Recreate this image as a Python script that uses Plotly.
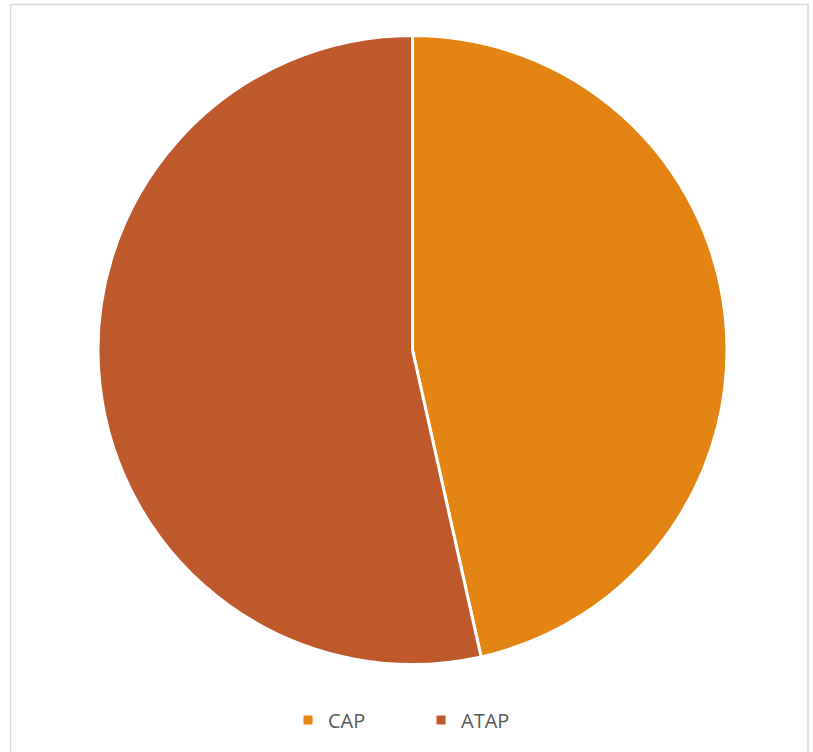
import plotly.graph_objects as go

labels = ["CAP", "ATAP"]
values = [46.5, 53.5]
colors = ["#E48412", "#BE592B"]

W, H = 813, 752
cx, cy, r = 412.5, 350, 314.5

fig = go.Figure(go.Pie(
    labels=labels, values=values, sort=False, direction="clockwise", rotation=0,
    marker=dict(colors=colors, line=dict(color="white", width=3)),
    textinfo="none", hoverinfo="label+value",
    domain=dict(x=[(cx - r) / W, (cx + r) / W], y=[1 - (cy + r) / H, 1 - (cy - r) / H]),
))

fig.update_layout(
    width=W, height=H, margin=dict(l=0, r=0, t=0, b=0),
    paper_bgcolor="white", plot_bgcolor="white",
    showlegend=True,
    legend=dict(orientation="h", x=(328 - 40) / W, xanchor="left", y=1 - 720 / H, yanchor="middle",
                font=dict(family="Open Sans, Calibri, sans-serif", size=20, color="#595959"),
                itemwidth=30, tracegroupgap=0, entrywidthmode="pixels", entrywidth=88,
                bgcolor="rgba(0,0,0,0)"),
    shapes=[dict(type="rect", xref="paper", yref="paper",
                 x0=10.5 / W, x1=808 / W, y0=-0.05, y1=1 - 4.5 / H,
                 line=dict(color="#D9D9D9", width=1.5), fillcolor="rgba(0,0,0,0)", layer="below")],
)

fig.write_html("out.html", config={"displayModeBar": False},
               post_script="document.body.style.margin='0';document.body.style.overflow='hidden';")
